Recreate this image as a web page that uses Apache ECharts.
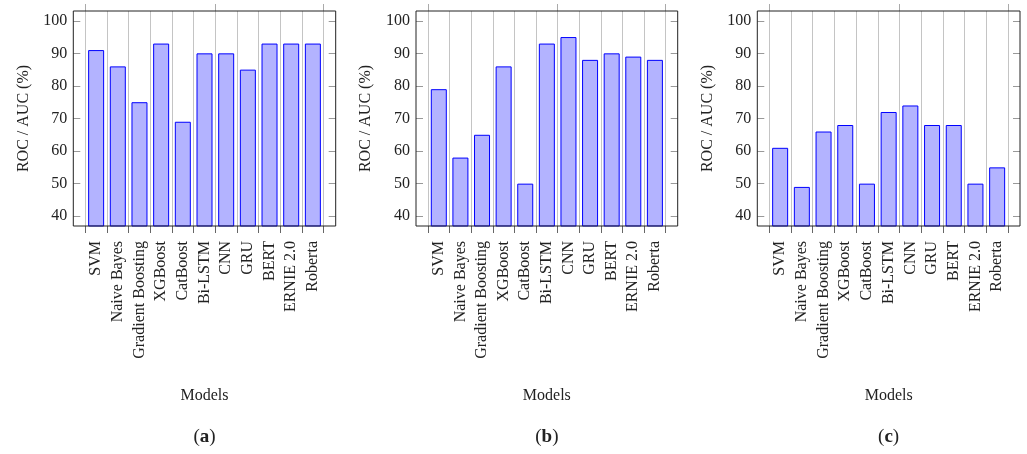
<!DOCTYPE html>
<html>
<head>
<meta charset="utf-8">
<script src="https://cdn.jsdelivr.net/npm/echarts@6/dist/echarts.min.js"></script>
<style>
html,body{margin:0;padding:0;background:#fff;}
#chart{width:1027px;height:454px;}
</style>
</head>
<body>
<div id="chart"></div>
<script>
const categories = ['SVM', 'Naive Bayes', 'Gradient Boosting', 'XGBoost', 'CatBoost', 'Bi-LSTM', 'CNN', 'GRU', 'BERT', 'ERNIE 2.0', 'Roberta'];
const valuesA = [91, 86, 75, 93, 69, 90, 90, 85, 93, 93, 93];
const valuesB = [79, 58, 65, 86, 50, 93, 95, 88, 90, 89, 88];
const valuesC = [61, 49, 66, 68, 50, 72, 74, 68, 68, 50, 55];
const yTicks = [40, 50, 60, 70, 80, 90, 100];
const yMin = 37, yMax = 103;
const panelLetters = ['a', 'b', 'c'];
const yAxisName = 'ROC / AUC (%)';
const xAxisName = 'Models';

const seriesValues = [valuesA, valuesB, valuesC];
const FONT = '"Liberation Serif", "DejaVu Serif", serif';
const TXT = '#222';
const frames = [[73.3, 335.7], [416, 677.7], [757.3, 1020]];
const pad = 12;
const TOP = 11, HEIGHT = 215;

const grid = [], xAxis = [], yAxis = [], series = [], graphic = [];
frames.forEach((f, i) => {
  const [l, r] = f;
  grid.push({left: l, top: TOP, width: r - l, height: HEIGHT, show: true, borderColor: '#222', borderWidth: 1, backgroundColor: 'transparent', z: 5});
  grid.push({left: l + pad, top: TOP, width: r - l - 2 * pad, height: HEIGHT});
  const gf = 2 * i, gc = 2 * i + 1;
  xAxis.push({gridIndex: gf, type: 'value', show: false, min: 0, max: 1});
  xAxis.push({
    gridIndex: gc, type: 'category', data: categories, position: 'bottom', boundaryGap: true,
    axisLine: {show: false},
    axisTick: {show: true, inside: false, length: 7, lineStyle: {color: '#666', width: 1}},
    splitLine: {show: true, lineStyle: {color: '#c4c4c4', width: 1}},
    axisLabel: {rotate: 90, margin: 15, interval: 0, fontFamily: FONT, fontSize: 16, color: TXT},
    name: xAxisName, nameLocation: 'middle', nameGap: 162,
    nameTextStyle: {fontFamily: FONT, fontSize: 16, color: TXT}
  });
  xAxis.push({
    gridIndex: gc, type: 'category', data: categories, position: 'top', boundaryGap: true,
    axisLine: {show: false},
    axisTick: {show: true, inside: false, length: 7, lineStyle: {color: '#aaa', width: 1}},
    axisLabel: {show: false}, splitLine: {show: false}
  });
  yAxis.push({
    gridIndex: gf, type: 'value', position: 'left', min: yMin, max: yMax,
    axisLine: {show: false},
    axisTick: {show: true, inside: true, length: 7, customValues: yTicks, lineStyle: {color: '#999'}},
    axisLabel: {show: true, margin: 6, customValues: yTicks, fontFamily: FONT, fontSize: 16, color: TXT},
    splitLine: {show: false},
    name: yAxisName, nameLocation: 'middle', nameGap: 42,
    nameTextStyle: {fontFamily: FONT, fontSize: 16, color: TXT}
  });
  yAxis.push({
    gridIndex: gf, type: 'value', position: 'right', min: yMin, max: yMax,
    axisLine: {show: false},
    axisTick: {show: true, inside: true, length: 7, customValues: yTicks, lineStyle: {color: '#999'}},
    axisLabel: {show: false}, splitLine: {show: false}
  });
  yAxis.push({gridIndex: gc, type: 'value', min: yMin, max: yMax, show: false, splitLine: {show: false}});
  series.push({
    type: 'bar', xAxisIndex: 3 * i + 1, yAxisIndex: 3 * i + 2, data: seriesValues[i],
    barWidth: 16, clip: true, z: 3,
    itemStyle: {color: '#b3b3ff', borderColor: '#0000ff', borderWidth: 1}
  });
  graphic.push({
    type: 'text', x: (l + r) / 2, y: 437,
    style: {
      text: '({b|' + panelLetters[i] + '})', textAlign: 'center', textVerticalAlign: 'middle',
      font: '19px ' + FONT, fill: TXT,
      rich: {b: {fontWeight: 'bold', fontSize: 19, fontFamily: FONT, fill: TXT, color: TXT}}
    }
  });
});

const chart = echarts.init(document.getElementById('chart'), null, {renderer: 'canvas'});
chart.setOption({
  animation: false,
  backgroundColor: '#fff',
  grid, xAxis, yAxis, series, graphic
});
</script>
</body>
</html>
